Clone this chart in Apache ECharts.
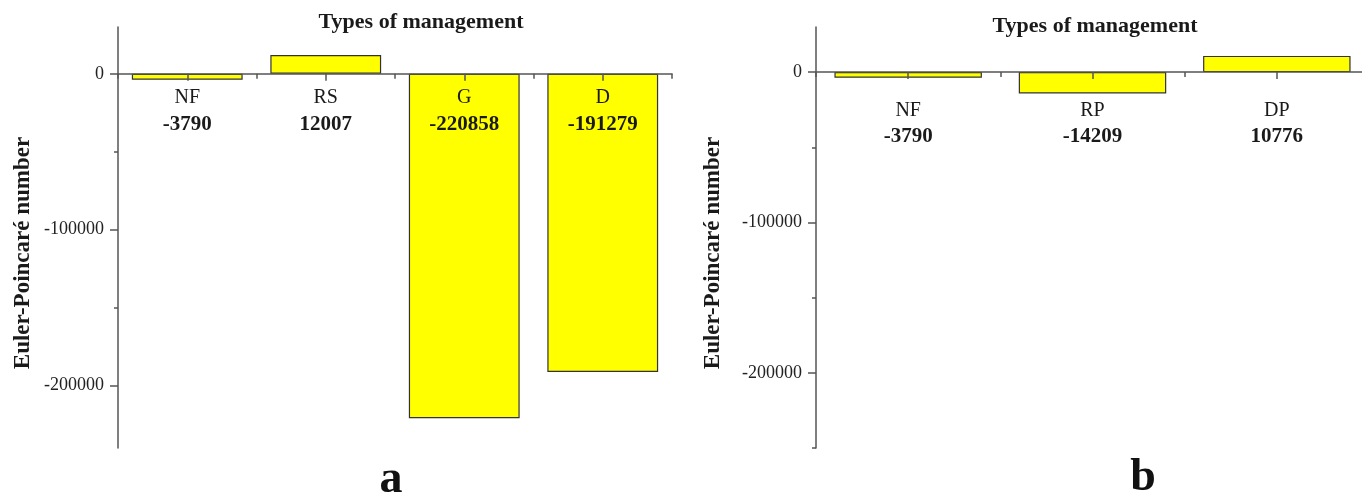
<!DOCTYPE html>
<html>
<head>
<meta charset="utf-8">
<script src="https://cdn.jsdelivr.net/npm/echarts@6/dist/echarts.min.js"></script>
<style>
  html, body { margin: 0; padding: 0; background: #fff; }
  #chart { width: 1362px; height: 500px; }
</style>
</head>
<body>
<div id="chart"></div>
<script>
// Panel a: types of management
const categoriesA = ['NF', 'RS', 'G', 'D'];
const valuesA = [-3790, 12007, -220858, -191279];
// Panel b: types of management
const categoriesB = ['NF', 'RP', 'DP'];
const valuesB = [-3790, -14209, 10776];
// Y axis tick labels (major) and minor ticks
const majorTicks = [0, -100000, -200000];
const minorTicksA = [-50000, -150000];
const minorTicksB = [-50000, -150000, -250000];

const SERIF = "'Liberation Serif', 'Times New Roman', serif";
const AXIS_COLOR = '#555';
const TEXT_COLOR = '#1a1a1a';
const GRID_H = 421;

const rangeA = { min: -240000, max: 30000 };
const rangeB = { min: -250000, max: 30000 };

// distance from the bottom of the grid up to the zero line
function zeroOffset(r) {
  return -GRID_H * (0 - r.min) / (r.max - r.min);
}

function categoryAxes(gridIndex, cats, vals, range, margin, lh) {
  const offset = zeroOffset(range);
  return [
    {
      type: 'category', gridIndex, data: cats, position: 'bottom', offset, z: 5,
      axisLine: { onZero: false, lineStyle: { color: AXIS_COLOR, width: 1.5 } },
      axisTick: { show: true, interval: 0, length: 5, lineStyle: { color: AXIS_COLOR, width: 1.5 } },
      axisLabel: {
        interval: 0, margin, hideOverlap: false,
        formatter: (v, i) => `{n|${v}}\n{v|${vals[i]}}`,
        rich: {
          n: { fontFamily: SERIF, fontSize: 20, color: TEXT_COLOR, lineHeight: lh },
          v: { fontFamily: SERIF, fontSize: 21, fontWeight: 'bold', color: TEXT_COLOR, lineHeight: lh }
        }
      },
      splitLine: { show: false }
    },
    {
      // centre ticks under each category
      type: 'category', gridIndex, data: cats, position: 'bottom', offset, z: 5,
      axisLine: { show: false, onZero: false },
      axisTick: { show: true, alignWithLabel: true, interval: 0, length: 7, lineStyle: { color: AXIS_COLOR, width: 1.5 } },
      axisLabel: { show: false },
      splitLine: { show: false }
    }
  ];
}

function valueAxes(gridIndex, range, minor) {
  return [
    {
      type: 'value', gridIndex, position: 'left', min: range.min, max: range.max,
      axisLine: { show: true, onZero: false, lineStyle: { color: AXIS_COLOR, width: 1.5 } },
      axisTick: { show: true, customValues: majorTicks, length: 8, lineStyle: { color: AXIS_COLOR, width: 1.5 } },
      axisLabel: {
        customValues: majorTicks, margin: 14,
        formatter: v => String(v),
        fontFamily: SERIF, fontSize: 18, color: '#222'
      },
      splitLine: { show: false }
    },
    {
      type: 'value', gridIndex, position: 'left', min: range.min, max: range.max,
      axisLine: { show: false, onZero: false },
      axisTick: { show: true, customValues: minor, length: 4, lineStyle: { color: AXIS_COLOR, width: 1.5 } },
      axisLabel: { show: false },
      splitLine: { show: false }
    }
  ];
}

const barStyle = { color: '#ffff00', borderColor: '#333', borderWidth: 1.2 };

const chart = echarts.init(document.getElementById('chart'), null, { renderer: 'canvas' });
chart.setOption({
  animation: false,
  backgroundColor: '#fff',
  grid: [
    { left: 118, top: 27, width: 554, height: GRID_H, containLabel: false, outerBoundsMode: 'none' },
    { left: 816, top: 27, width: 553, height: GRID_H, containLabel: false, outerBoundsMode: 'none' }
  ],
  xAxis: [
    ...categoryAxes(0, categoriesA, valuesA, rangeA, 10.5, 27),
    ...categoryAxes(1, categoriesB, valuesB, rangeB, 26.5, 25)
  ],
  yAxis: [
    ...valueAxes(0, rangeA, minorTicksA),
    ...valueAxes(1, rangeB, minorTicksB)
  ],
  series: [
    { type: 'bar', xAxisIndex: 0, yAxisIndex: 0, data: valuesA, barWidth: '80%', itemStyle: barStyle },
    { type: 'bar', xAxisIndex: 2, yAxisIndex: 2, data: valuesB, barWidth: '80%', itemStyle: barStyle }
  ],
  graphic: [
    { type: 'text', x: 421, y: 22, style: { text: 'Types of management', font: `bold 22px ${SERIF}`, fill: TEXT_COLOR, textAlign: 'center', textVerticalAlign: 'middle' } },
    { type: 'text', x: 1095, y: 26, style: { text: 'Types of management', font: `bold 22px ${SERIF}`, fill: TEXT_COLOR, textAlign: 'center', textVerticalAlign: 'middle' } },
    { type: 'text', x: 23, y: 253, rotation: Math.PI / 2, style: { text: 'Euler-Poincaré number', font: `bold 23px ${SERIF}`, fill: TEXT_COLOR, textAlign: 'center', textVerticalAlign: 'middle' } },
    { type: 'text', x: 713, y: 253, rotation: Math.PI / 2, style: { text: 'Euler-Poincaré number', font: `bold 23px ${SERIF}`, fill: TEXT_COLOR, textAlign: 'center', textVerticalAlign: 'middle' } },
    { type: 'text', x: 391, y: 480, style: { text: 'a', font: `bold 46px ${SERIF}`, fill: '#111', textAlign: 'center', textVerticalAlign: 'middle' } },
    { type: 'text', x: 1143, y: 478, style: { text: 'b', font: `bold 46px ${SERIF}`, fill: '#111', textAlign: 'center', textVerticalAlign: 'middle' } }
  ]
});
</script>
</body>
</html>
